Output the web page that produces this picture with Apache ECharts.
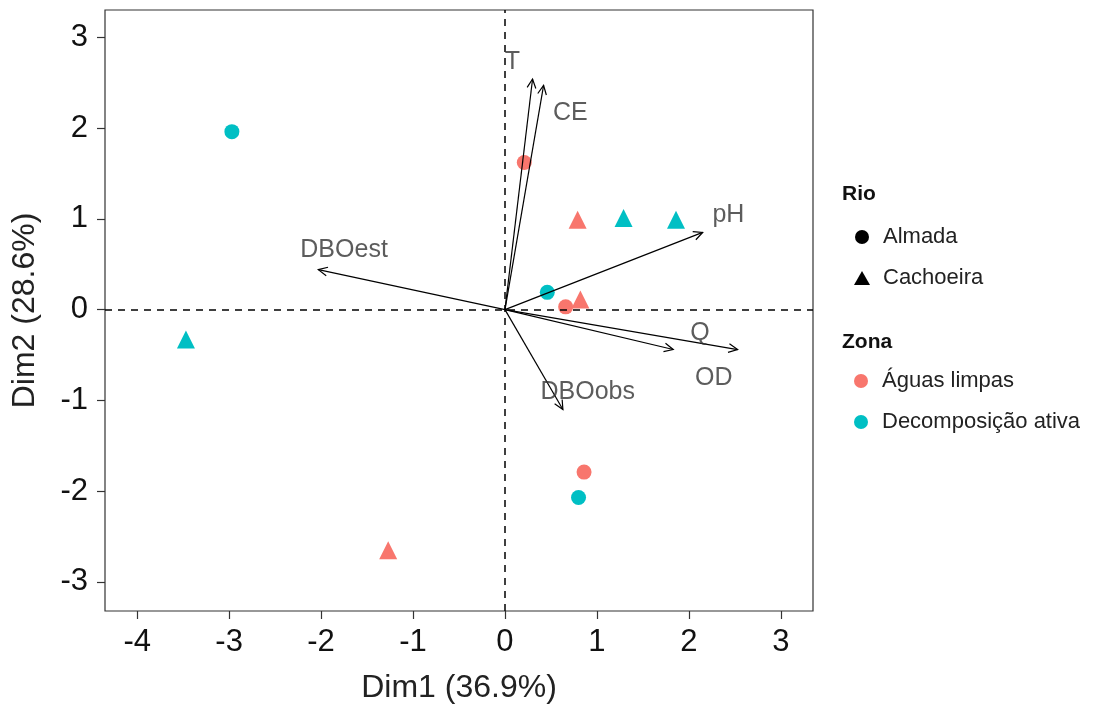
<!DOCTYPE html>
<html>
<head>
<meta charset="utf-8">
<title>PCA biplot</title>
<script src="https://cdn.jsdelivr.net/npm/echarts@6/dist/echarts.min.js"></script>
<style>
  html, body { margin: 0; padding: 0; background: #fff; }
  #chart { width: 1094px; height: 709px; }
</style>
</head>
<body>
<div id="chart"></div>
<script>
// individuals (scores)
var dim1 = [-2.97, -3.47, -1.27, 0.21, 0.79, 1.29, 1.86, 0.46, 0.66, 0.82, 0.86, 0.80];
var dim2 = [1.96, -0.33, -2.65, 1.62, 0.99, 1.01, 0.99, 0.19, 0.03, 0.11, -1.79, -2.07];
var rio  = ['Almada', 'Cachoeira', 'Cachoeira', 'Almada', 'Cachoeira', 'Cachoeira', 'Cachoeira',
            'Almada', 'Almada', 'Cachoeira', 'Almada', 'Almada'];
var zona = ['Decomposição ativa', 'Decomposição ativa', 'Águas limpas', 'Águas limpas', 'Águas limpas',
            'Decomposição ativa', 'Decomposição ativa', 'Decomposição ativa', 'Águas limpas',
            'Águas limpas', 'Águas limpas', 'Decomposição ativa'];

// variables (arrows) and where their names sit
var varNames = ['T', 'CE', 'pH', 'DBOest', 'Q', 'OD', 'DBOobs'];
var varX = [0.30, 0.42, 2.15, -2.03, 1.83, 2.53, 0.63];
var varY = [2.54, 2.47, 0.85, 0.44, -0.44, -0.44, -1.10];
var labX = [0.08, 0.71, 2.43, -1.75, 2.12, 2.27, 0.90];
var labY = [2.73, 2.16, 1.04, 0.66, -0.26, -0.75, -0.91];

var xTicks = [-4, -3, -2, -1, 0, 1, 2, 3];
var yTicks = [-3, -2, -1, 0, 1, 2, 3];

var rioLevels = ['Almada', 'Cachoeira'];
var zonaLevels = ['Águas limpas', 'Decomposição ativa'];
var zonaColors = { 'Águas limpas': '#F8766D', 'Decomposição ativa': '#00BFC4' };
var rioShapes = { 'Almada': 'circle', 'Cachoeira': 'triangle' };

var FONT = 'Liberation Sans';
var chart = echarts.init(document.getElementById('chart'));

var series = [];

// point series, one per rio x zona
rioLevels.forEach(function (r) {
  zonaLevels.forEach(function (z) {
    var pts = [];
    for (var i = 0; i < dim1.length; i++) {
      if (rio[i] === r && zona[i] === z) pts.push([dim1[i], dim2[i]]);
    }
    series.push({
      name: r + ' / ' + z,
      type: 'scatter',
      data: pts,
      symbol: rioShapes[r],
      symbolSize: r === 'Almada' ? 15 : 18,
      itemStyle: { color: zonaColors[z], opacity: 1 },
      z: 3
    });
  });
});

// arrows from the origin
var arrowData = varX.map(function (x, i) { return [x, varY[i]]; });
series.push({
  name: 'vars',
  type: 'custom',
  data: arrowData,
  z: 5,
  renderItem: function (params, api) {
    var o = api.coord([0, 0]);
    var t = api.coord([api.value(0), api.value(1)]);
    var ang = Math.atan2(t[1] - o[1], t[0] - o[0]);
    var hl = 10, ha = 0.45;
    var p1 = [t[0] - hl * Math.cos(ang - ha), t[1] - hl * Math.sin(ang - ha)];
    var p2 = [t[0] - hl * Math.cos(ang + ha), t[1] - hl * Math.sin(ang + ha)];
    var st = { stroke: '#000', lineWidth: 1.2, fill: null };
    return {
      type: 'group',
      children: [
        { type: 'line', shape: { x1: o[0], y1: o[1], x2: t[0], y2: t[1] }, style: st },
        { type: 'polyline', shape: { points: [p1, t, p2] }, style: st }
      ]
    };
  },
  markLine: {
    silent: true,
    symbol: 'none',
    label: { show: false },
    lineStyle: { color: '#000', type: [7, 6], width: 1.5 },
    data: [{ xAxis: 0 }, { yAxis: 0 }]
  }
});

// arrow labels
series.push({
  name: 'varLabels',
  type: 'scatter',
  data: labX.map(function (x, i) { return { name: varNames[i], value: [x, labY[i]] }; }),
  symbolSize: 1,
  itemStyle: { color: 'rgba(0,0,0,0)' },
  z: 6,
  label: {
    show: true,
    position: 'inside',
    formatter: '{b}',
    color: '#333',
    fontSize: 25,
    fontFamily: FONT
  }
});

// legend-only series
var legendSeries = [
  { name: 'Almada', symbol: 'circle', color: '#000' },
  { name: 'Cachoeira', symbol: 'triangle', color: '#000' },
  { name: 'Águas limpas', symbol: 'circle', color: '#F8766D' },
  { name: 'Decomposição ativa', symbol: 'circle', color: '#00BFC4' }
];
legendSeries.forEach(function (s) {
  series.push({ name: s.name, type: 'scatter', data: [], symbol: s.symbol, itemStyle: { color: s.color, opacity: 1 } });
});

var legendText = { fontSize: 22, color: '#222', fontFamily: FONT, padding: [0, 0, 0, 8] };
var titleText = { fontSize: 21, fontWeight: 'bold', color: '#111', fontFamily: FONT };

var option = {
  animation: false,
  backgroundColor: '#fff',
  title: [
    { text: 'Rio', left: 842, top: 184, padding: 0, textStyle: titleText },
    { text: 'Zona', left: 842, top: 332, padding: 0, textStyle: titleText }
  ],
  legend: [
    {
      orient: 'vertical', left: 854, top: 226, padding: 0, itemGap: 19, itemWidth: 16, itemHeight: 14,
      selectedMode: false, textStyle: legendText,
      data: [
        { name: 'Almada', icon: 'circle', itemStyle: { color: '#000', opacity: 1 } },
        { name: 'Cachoeira', icon: 'triangle', itemStyle: { color: '#000', opacity: 1 } }
      ]
    },
    {
      orient: 'vertical', left: 854, top: 370, padding: 0, itemGap: 19, itemWidth: 16, itemHeight: 14,
      selectedMode: false, textStyle: legendText,
      data: [
        { name: 'Águas limpas', icon: 'circle', itemStyle: { color: '#F8766D', opacity: 1 } },
        { name: 'Decomposição ativa', icon: 'circle', itemStyle: { color: '#00BFC4', opacity: 1 } }
      ]
    }
  ],
  grid: {
    left: 105, right: 281, top: 10, bottom: 97,
    show: true, borderColor: '#333', borderWidth: 1.2, backgroundColor: '#fff'
  },
  xAxis: {
    type: 'value', min: -4.35, max: 3.35,
    name: 'Dim1 (36.9%)', nameLocation: 'middle', nameGap: 61,
    nameTextStyle: { fontSize: 32, color: '#222', fontFamily: FONT },
    axisLine: { show: false, onZero: false },
    splitLine: { show: false },
    axisTick: { show: true, inside: false, length: 8, customValues: xTicks, lineStyle: { color: '#333', width: 1.2 } },
    axisLabel: { customValues: xTicks, fontSize: 31, color: '#111', margin: 16, fontFamily: FONT }
  },
  yAxis: {
    type: 'value', min: -3.32, max: 3.3,
    name: 'Dim2 (28.6%)', nameLocation: 'middle', nameGap: 64,
    nameTextStyle: { fontSize: 32, color: '#222', fontFamily: FONT },
    axisLine: { show: false, onZero: false },
    splitLine: { show: false },
    axisTick: { show: true, inside: false, length: 8, customValues: yTicks, lineStyle: { color: '#333', width: 1.2 } },
    axisLabel: { customValues: yTicks, fontSize: 31, color: '#111', margin: 17, fontFamily: FONT }
  },
  series: series
};

chart.setOption(option);
</script>
</body>
</html>
